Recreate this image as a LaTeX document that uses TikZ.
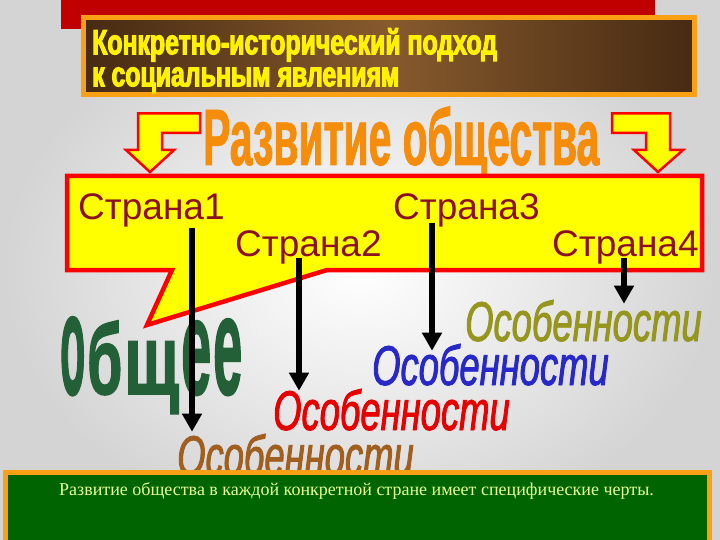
\documentclass[tikz,border=0pt]{standalone}
\usepackage{fontspec}
\usepackage{graphicx}
\setmainfont{Liberation Sans}
\newfontfamily\titlefont[FakeStretch=0.71,FakeBold=3]{Liberation Sans Bold}
\newfontfamily\headfont[FakeStretch=0.51,FakeBold=1]{Liberation Sans Bold}
\newfontfamily\featfont[FakeStretch=0.65,FakeBold=1.5]{Liberation Sans Italic}
\newfontfamily\commonfont[FakeBold=2]{Liberation Sans Bold}
\newfontfamily\notefont{Liberation Serif}
\usetikzlibrary{arrows.meta,positioning}

\definecolor{barred}{RGB}{192,0,0}
\definecolor{boxorange}{RGB}{250,160,20}
\definecolor{browndark}{RGB}{70,42,18}
\definecolor{brownlight}{RGB}{135,90,45}
\definecolor{calloutyellow}{RGB}{255,255,0}
\definecolor{calloutred}{RGB}{255,0,0}
\definecolor{countryred}{RGB}{140,15,35}
\definecolor{commongreen}{RGB}{35,95,55}
\definecolor{featolive}{RGB}{150,150,30}
\definecolor{featblue}{RGB}{40,40,200}
\definecolor{featred}{RGB}{230,0,0}
\definecolor{featbrown}{RGB}{160,95,30}
\definecolor{notegreen}{RGB}{0,100,0}
\definecolor{notetext}{RGB}{230,255,150}
\definecolor{headorange}{RGB}{245,140,10}

\begin{document}
\begin{tikzpicture}[x=1pt,y=-1pt,
  country/.style={font=\fontsize{37}{37}\selectfont, text=countryred, inner sep=0pt, anchor=base west},
  feature/.style={font=\featfont\fontsize{56}{56}\selectfont, inner sep=0pt, anchor=base west},
  link/.style={line width=5.5pt, -{Triangle[length=18pt,width=19pt]}},
  bendarrow/.style={fill=calloutyellow, draw=calloutred, line width=2.5pt, line join=miter}]

\useasboundingbox (0,0) rectangle (720,540);
\shade[inner color=white, outer color=black!17] (0,0) rectangle (720,540);

% title
\fill[barred] (61,0) rectangle (655,29);
\shade[left color=browndark, right color=browndark, middle color=brownlight] (83.5,17.5) rectangle (694.5,94.5);
\draw[boxorange, line width=5pt] (83.5,17.5) rectangle (694.5,94.5);
\node[font=\titlefont\fontsize{35}{32}\selectfont, text=yellow, align=left, anchor=north west, inner sep=0pt] (title) at (92,28) {Конкретно-исторический подход\\к социальным явлениям};

\node[font=\headfont\fontsize{80}{80}\selectfont, text=headorange, anchor=base west, inner sep=0pt] (head) at (203,165) {Развитие общества};

% callout with the countries
\draw[fill=calloutyellow, draw=calloutred, line width=4.5pt, line join=miter] (67,176) -- (702,176) -- (702,270) -- (327,270) -- (147,325) -- (172,270) -- (67,270) -- cycle;
\draw[bendarrow] (200,113.5) -- (138,113.5) -- (138,150) -- (126,150) -- (150,172) -- (174,150) -- (162,150) -- (162,133) -- (200,133) -- cycle;
\draw[bendarrow] (612,113.5) -- (670,113.5) -- (670,150) -- (683,150) -- (658,172) -- (634,150) -- (646,150) -- (646,133) -- (612,133) -- cycle;

\node[country] (s1) at (78,220) {Страна1};
\node[country] (s2) at (235,256) {Страна2};
\node[country] (s3) at (393,220) {Страна3};
\node[country] (s4) at (552,256) {Страна4};

\node[text=commongreen, inner sep=0pt, anchor=north west, font=\commonfont] (common) at (60,317)
  {\resizebox*{25pt}{78pt}{о}\hspace{2pt}\resizebox*{35pt}{74pt}{б}\hspace{2pt}\resizebox*{55pt}{72pt}{щ}\hspace{2pt}\resizebox*{30pt}{74pt}{е}\hspace{2pt}\resizebox*{29pt}{76pt}{е}};

\node[feature, text=featolive] (f4) at (465,341) {Особенности};
\node[feature, text=featblue] (f3) at (372,385) {Особенности};
\node[feature, text=featred] (f2) at (273,430) {Особенности};
\node[feature, text=featbrown] (f1) at (177,475) {Особенности};

\coordinate (c1) at (192,0);
\coordinate (c2) at (299,0);
\coordinate (c3) at (432,0);
\coordinate (c4) at (624,0);
\draw[link, shorten <=8pt, shorten >=2pt] (s1.base -| c1) -- (f1.north -| c1);
\draw[link, shorten <=2pt, shorten >=-2pt] (s2.base -| c2) -- (f2.north -| c2);
\draw[link, shorten <=3pt, shorten >=-7pt] (s3.base -| c3) -- (f3.north -| c3);
\draw[link, shorten <=2pt, shorten >=-4pt] (s4.base -| c4) -- (f4.north -| c4);

% note
\draw[fill=notegreen, draw=boxorange, line width=5pt] (5.5,472.5) rectangle (709.5,545);
\node[font=\notefont\fontsize{18}{18}\selectfont, text=notetext, anchor=base west, inner sep=0pt] (note) at (59,495) {Развитие общества в каждой конкретной стране имеет специфические черты.};
\end{tikzpicture}
\end{document}
